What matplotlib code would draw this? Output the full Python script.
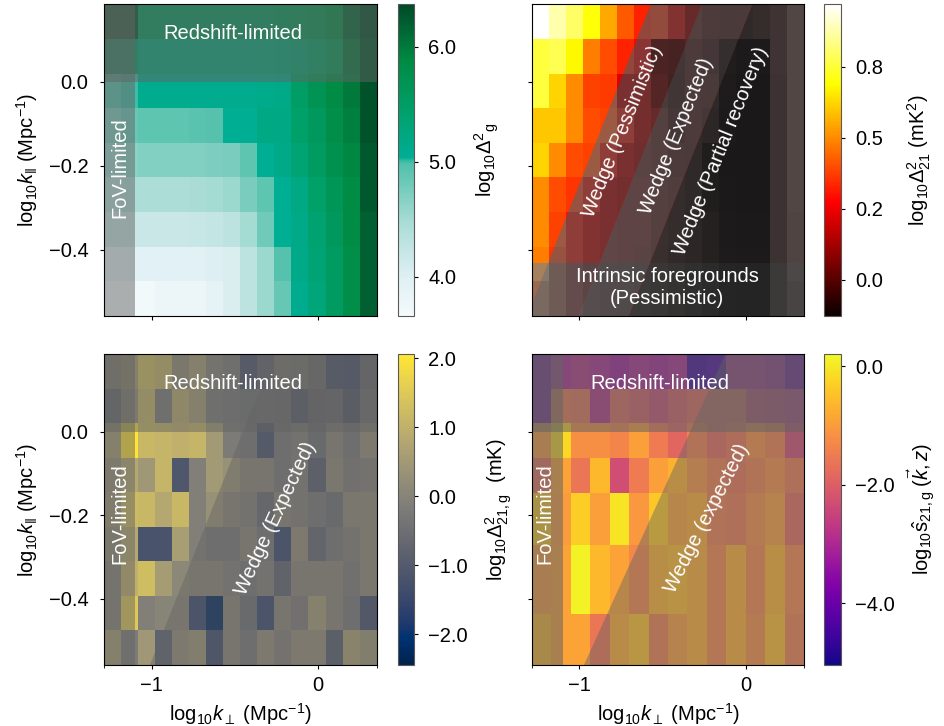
# -*- coding: utf-8 -*-
"""
Four-panel k-space maps with foreground / wedge shading
"""

import numpy as np
import matplotlib.pyplot as plt
from matplotlib.colors import LinearSegmentedColormap, ListedColormap
from matplotlib.patches import Polygon
from matplotlib.ticker import FuncFormatter

plt.rcParams['font.family'] = ['Liberation Sans', 'DejaVu Sans']
plt.rcParams['mathtext.fontset'] = 'custom'
plt.rcParams['mathtext.rm'] = 'Liberation Sans'
plt.rcParams['mathtext.it'] = 'Liberation Sans:italic'
plt.rcParams['mathtext.bf'] = 'Liberation Sans:bold'
fs = 14.5
plt.rcParams['font.size'] = fs

#------------------------------------------------------------------------------
# data (rows listed top -> bottom, 16 k_perp bins)
#
kperp_edges = np.linspace(-1.285, 0.35, 17)
kpar_edges  = np.linspace(-0.558, 0.185, 10)

# galaxy power, log10 Delta^2_g
gal_rows = [
    [6.25, 6.25, 5.6, 5.6, 5.6, 5.6, 5.6, 5.6, 5.6, 5.62, 5.65, 5.7, 5.75, 5.85, 6.15, 6.37],
    [5.5, 5.5, 5.3, 5.3, 5.3, 5.3, 5.3, 5.3, 5.3, 5.32, 5.35, 5.4, 5.5, 5.7, 6.05, 6.3],
    [4.95, 5.0, 5.1, 5.1, 5.1, 5.1, 5.1, 5.1, 5.1, 5.12, 5.15, 5.5, 5.7, 5.85, 6.0, 6.3],
    [4.75, 4.85, 4.9, 4.9, 4.9, 4.92, 4.95, 5.05, 5.05, 5.2, 5.2, 5.45, 5.6, 5.8, 5.95, 6.3],
    [4.55, 4.65, 4.7, 4.7, 4.7, 4.7, 4.72, 4.75, 4.9, 5.05, 5.15, 5.35, 5.55, 5.75, 5.9, 6.25],
    [4.4, 4.45, 4.45, 4.45, 4.45, 4.47, 4.5, 4.55, 4.75, 4.9, 5.05, 5.2, 5.45, 5.65, 5.85, 6.25],
    [4.2, 4.2, 4.2, 4.2, 4.2, 4.22, 4.25, 4.3, 4.5, 4.8, 5.05, 5.15, 5.4, 5.6, 5.85, 6.2],
    [3.9, 3.95, 3.95, 3.95, 3.95, 3.97, 4.0, 4.05, 4.3, 4.55, 4.95, 5.15, 5.35, 5.55, 5.8, 6.2],
    [3.7, 3.7, 3.7, 3.8, 3.8, 3.8, 3.9, 4.05, 4.3, 4.55, 4.85, 5.1, 5.3, 5.55, 5.8, 6.2],
]

# 21 cm power, log10 Delta^2_21 (mK^2)
hi_rows = [
    [0.97, 0.88, 0.8, 0.7, 0.55, 0.42, 0.33, 0.34, 0.25, 0.15, 0.1, 0.08, 0.08, 0.12, 0.2, 0.33],
    [0.76, 0.78, 0.68, 0.48, 0.4, 0.33, 0.28, 0.05, 0.04, 0.1, 0.05, -0.05, -0.08, -0.08, 0.2, 0.33],
    [0.76, 0.62, 0.5, 0.38, 0.37, 0.22, 0.2, 0.08, 0.02, 0.1, 0.08, -0.07, -0.1, -0.1, 0.18, 0.33],
    [0.6, 0.6, 0.5, 0.4, 0.38, 0.3, 0.2, 0.15, 0.05, 0.1, 0.05, -0.08, -0.1, -0.1, 0.18, 0.33],
    [0.62, 0.5, 0.4, 0.38, 0.3, 0.22, 0.18, 0.15, 0.1, 0.08, -0.05, -0.1, -0.1, -0.1, 0.18, 0.33],
    [0.5, 0.4, 0.36, 0.3, 0.22, 0.2, 0.2, 0.15, 0.12, 0.08, -0.05, -0.09, -0.1, -0.1, 0.18, 0.33],
    [0.5, 0.38, 0.3, 0.25, 0.22, 0.2, 0.2, 0.15, 0.12, 0.05, 0.0, -0.08, -0.09, -0.09, 0.18, 0.32],
    [0.48, 0.36, 0.3, 0.25, 0.22, 0.2, 0.18, 0.15, 0.1, 0.05, 0.0, -0.07, -0.08, -0.08, 0.18, 0.32],
    [0.42, 0.36, 0.3, 0.25, 0.22, 0.2, 0.18, 0.15, 0.1, 0.05, 0.0, -0.07, -0.08, -0.08, 0.18, 0.3],
]

# cross power, log10 Delta^2_21,g (mK)
cross_rows = [
    [0.3, 0.6, 1.3, 1.1, 0.2, 0.6, 0.0, -0.2, -1.2, -0.8, 0.0, -0.1, -0.4, -1.5, -1.6, -0.6],
    [-0.6, 0.3, 1.1, -0.2, 0.9, 0.6, -0.2, -0.3, -0.4, -0.3, -0.4, -1.2, -0.7, -0.6, -1.3, -0.3],
    [0.6, 2.0, 1.15, 1.1, 1.0, 1.1, 0.5, -0.2, -0.3, -1.2, -0.3, -0.1, -0.5, 0.0, -0.3, 0.2],
    [0.3, 0.8, 0.45, 1.1, -1.1, -0.1, 0.5, 0.3, 0.0, 0.0, -0.3, -0.1, -0.9, 0.1, -0.2, -0.1],
    [0.4, 1.2, 1.15, 0.8, 1.15, -0.1, 0.3, 0.0, -0.1, -0.6, 0.0, -0.1, -0.3, -0.5, 0.1, 0.1],
    [0.2, 0.8, -1.2, -1.2, 0.6, -0.1, -0.3, -0.3, 0.0, -0.3, -1.5, 0.2, -0.7, -0.3, -0.1, 0.1],
    [0.0, 1.0, 1.25, 0.55, 0.1, 0.0, 0.0, -0.1, -0.3, -0.1, -0.8, 0.0, 0.0, 0.0, -0.2, 0.1],
    [0.0, 1.5, -0.1, 0.0, 0.0, -1.5, -2.3, 0.0, -0.5, -1.5, 0.0, -0.2, 0.5, 0.0, -0.3, -1.3],
    [0.6, -0.2, 0.45, -0.8, 0.2, 0.4, -1.4, 0.0, -0.3, 0.2, -0.1, 0.2, 0.2, -1.0, 0.6, 0.4],
]

# detection significance, log10 s_21,g  (14 k_perp bins, uneven k_par bins)
sig_kperp_edges = np.linspace(-1.285, 0.35, 15)
sig_kpar_edges  = [-0.6, -0.437, -0.270, -0.146, -0.062, 0.0215, 0.101, 0.187]
sig_rows = [
    [-3.8, -3.0, -2.8, -3.0, -3.2, -3.0, -3.1, -3.0, -4.6, -4.5, -3.0, -3.0, -3.2, -4.0],
    [-3.8, -1.5, -1.6, -2.8, -1.8, -2.0, -2.3, -2.0, -1.8, -1.8, -1.8, -2.4, -2.5, -2.7],
    [-1.0, -0.2, -1.2, -1.2, -1.35, -0.95, -1.5, -1.85, -1.4, -1.8, -1.6, -1.2, -1.4, -2.3],
    [-1.7, -0.9, -1.6, -0.6, -2.3, -1.5, -0.95, -0.7, -1.1, -1.4, -1.6, -1.4, -1.2, -1.5],
    [-0.4, -1.0, -0.35, -0.95, -0.05, -1.05, -0.4, -0.9, -0.8, -1.4, -1.5, -1.2, -1.0, -1.8],
    [-1.0, -0.9, 0.1, -0.6, -0.9, -1.3, -0.7, -0.6, -0.8, -1.3, -0.8, -1.3, -0.7, -1.3],
    [-0.6, -0.9, -0.9, -1.6, -0.8, -0.5, -1.4, -1.0, -0.8, -1.3, -0.8, -1.2, -0.6, -1.4],
]

# limits of the plotted k ranges
xlim = (-1.285, 0.35)
ylim = (-0.558, 0.185)
k_fov = -1.1        # FoV limit in log10 k_perp
k_z   = 0.0         # redshift limit in log10 k_par
k_fg  = -0.432      # intrinsic foreground limit
# wedge lines log10 k_par = slope*log10 k_perp + offset
wedge_pess = (1.0, 0.757)
wedge_exp  = (1.0, 0.452)
wedge_part = (1.0, 0.145)
wedge_sig  = (0.877, 0.294)

#------------------------------------------------------------------------------
# plotting settings
shade_col = '#646464'
txt = dict(color='white', fontsize=fs, ha='center', va='center', zorder=5)
minus = lambda s: s.replace('-', '\u2212')
fmt1 = FuncFormatter(lambda v, p: minus('%.1f' % v))

gal_cmap = LinearSegmentedColormap.from_list('gal', [
    (0.00, '#f4fafb'), (0.12, '#e0f0f4'), (0.30, '#a9dcd5'),
    (0.49, '#4fc0aa'), (0.51, '#00ae94'), (0.66, '#00a06a'),
    (0.82, '#008a42'), (1.00, '#004a28')])


def toned(cmap, sat, dark, lift):
    # greyed-out version of a colormap (used inside the foreground wedges)
    rgb = plt.get_cmap(cmap)(np.linspace(0, 1, 256))[:, :3]
    lum = rgb @ np.array([0.299, 0.587, 0.114])
    mix = sat*rgb + (1-sat)*lum[:, None]
    return ListedColormap(np.clip(lift + dark*mix, 0, 1))


fig = plt.figure(figsize=(9.44, 7.26), dpi=100)
ax_w, ax_h = 0.2888, 0.4294
axes = {
    'tl': fig.add_axes([0.1102, 0.5647, ax_w, ax_h]),
    'tr': fig.add_axes([0.5632, 0.5647, ax_w, ax_h]),
    'bl': fig.add_axes([0.1102, 0.0840, ax_w, 0.4280]),
    'br': fig.add_axes([0.5632, 0.0840, ax_w, 0.4280]),
}
caxes = {
    'tl': fig.add_axes([0.4216, 0.5647, 0.0173, ax_h]),
    'tr': fig.add_axes([0.8732, 0.5647, 0.0173, ax_h]),
    'bl': fig.add_axes([0.4216, 0.0840, 0.0173, 0.4280]),
    'br': fig.add_axes([0.8732, 0.0840, 0.0173, 0.4280]),
}


def region(left, right, y0, y1):
    # polygon between two wedge lines (None -> far outside the axes)
    def xs(line, y, far):
        return far if line is None else (y - line[1])/line[0]
    return [(xs(left, y0, -5), y0), (xs(left, y1, -5), y1),
            (xs(right, y1, 5), y1), (xs(right, y0, 5), y0)]


def band(ax, line_hi, line_lo, alpha):
    ax.add_patch(Polygon(region(line_hi, line_lo, -2, 2), closed=True,
                         facecolor=shade_col, alpha=alpha, lw=0, zorder=2))


def limits(ax, alpha=0.5):
    ax.axvspan(xlim[0]-1, k_fov, color=shade_col, alpha=alpha, lw=0, zorder=2)
    ax.axhspan(k_z, ylim[1]+1, color=shade_col, alpha=alpha, lw=0, zorder=2)


def panel(key, xe, ye, rows, cmap, vmin, vmax, cticks, clabel, lab_x):
    ax = axes[key]
    pc = ax.pcolormesh(xe, ye, np.array(rows)[::-1], cmap=cmap,
                       vmin=vmin, vmax=vmax, zorder=1)
    ax.set_xlim(xlim)
    ax.set_ylim(ylim)
    ax.set_xticks([-1, 0])
    ax.set_yticks([0.0, -0.2, -0.4])
    ax.yaxis.set_major_formatter(fmt1)
    ax.tick_params(direction='out', length=3.2, width=0.8, labelsize=fs)
    ax.tick_params(axis='x', pad=5)
    ax.tick_params(axis='y', pad=8)
    cb = fig.colorbar(pc, cax=caxes[key])
    cb.set_ticks(cticks)
    cb.ax.yaxis.set_major_formatter(fmt1)
    cb.ax.tick_params(direction='out', length=3.2, width=0.8, labelsize=fs, pad=7)
    cb.outline.set_edgecolor('0.35')
    cb.outline.set_linewidth(0.8)
    cb.set_label(clabel, fontsize=fs)
    cb.ax.yaxis.set_label_coords(lab_x, 0.5)
    return ax


klab_par  = r'log$_{10}$$k_{\|}$ (Mpc$^{-1}$)'
klab_perp = r'log$_{10}$$k_{\perp}$ (Mpc$^{-1}$)'

#------------------------------------------------------------------------------
# Galaxy power spectrum
ax = panel('tl', kperp_edges, kpar_edges, gal_rows, gal_cmap, 3.66, 6.37,
           [4.0, 5.0, 6.0], r'log$_{10}\Delta^{2}{}_{\rm g}$', 4.55)
limits(ax)
ax.text(-0.51, 0.115, 'Redshift-limited', **txt)
ax.text(-1.19, -0.205, 'FoV-limited', rotation=90, **txt)
ax.set_ylabel(klab_par, labelpad=6)
ax.set_xticklabels([])

#------------------------------------------------------------------------------
# 21 cm power spectrum: wedge regions drawn as greyed-out copies of the map
hi_vmin, hi_vmax = -0.127, 0.97
ax = panel('tr', kperp_edges, kpar_edges, hi_rows, 'hot', hi_vmin, hi_vmax,
           [0.0, 0.25, 0.5, 0.75], r'log$_{10}\Delta^{2}_{21}$ (mK$^{2}$)', 5.0)
hi_Z = np.array(hi_rows)[::-1]
tone_b1 = toned('hot', 0.45, 0.75, 0.08)
tone_b2 = toned('hot', 0.20, 0.60, 0.15)
tone_b3 = toned('hot', 0.10, 0.55, 0.08)
bands = [(None, wedge_pess, 'hot'), (wedge_pess, wedge_exp, tone_b1),
         (wedge_exp, wedge_part, tone_b2), (wedge_part, None, tone_b3)]
for left, right, cm in bands:
    for y0, y1, cmap in [(k_fg, 2, cm), (-2, k_fg, toned(cm, 0.35, 0.8, 0.06))]:
        if isinstance(cmap, str):
            continue
        pc = ax.pcolormesh(kperp_edges, kpar_edges, hi_Z, cmap=cmap,
                           vmin=hi_vmin, vmax=hi_vmax, zorder=1.5)
        pc.set_clip_path(Polygon(region(left, right, y0, y1), closed=True,
                                 transform=ax.transData))
ax.text(-0.741, -0.119, 'Wedge (Pessimistic)', rotation=68, **txt)
ax.text(-0.419, -0.129, 'Wedge (Expected)', rotation=68, **txt)
ax.text(-0.151, -0.166, 'Wedge (Partial recovery)', rotation=68, **txt)
ax.text(-0.473, -0.489, 'Intrinsic foregrounds\n(Pessimistic)',
        linespacing=1.2, **txt)
ax.set_xticklabels([])
ax.set_yticklabels([])

#------------------------------------------------------------------------------
# Cross power spectrum
ax = panel('bl', kperp_edges, kpar_edges, cross_rows, 'cividis', -2.45, 2.06,
           [-2.0, -1.0, 0.0, 1.0, 2.0], r'log$_{10}\Delta^{2}_{21,\rm g}$  (mK)', 5.2)
limits(ax)
band(ax, wedge_exp, None, 0.45)
ax.text(-0.51, 0.115, 'Redshift-limited', **txt)
ax.text(-1.19, -0.195, 'FoV-limited', rotation=90, **txt)
ax.text(-0.254, -0.207, 'Wedge (Expected)', rotation=65, **txt)
ax.set_ylabel(klab_par, labelpad=6)
ax.set_xlabel(klab_perp)
ax.set_xticks([xlim[0], xlim[1]], minor=True)

#------------------------------------------------------------------------------
# Detection significance
ax = panel('br', sig_kperp_edges, sig_kpar_edges, sig_rows, 'plasma', -5.04, 0.2,
           [-4.0, -2.0, 0.0], r'log$_{10}\hat{\rm s}_{21,\rm g}\;(\vec{k},z)$', 5.0)
limits(ax, alpha=0.55)
band(ax, wedge_sig, None, 0.45)
ax.text(-0.519, 0.115, 'Redshift-limited', **txt)
ax.text(-1.205, -0.195, 'FoV-limited', rotation=90, **txt)
ax.text(-0.234, -0.207, 'Wedge (expected)', rotation=63, **txt)
ax.set_yticklabels([])
ax.set_xlabel(klab_perp)
ax.set_xticks([xlim[0], xlim[1]], minor=True)

plt.savefig('out.png', dpi=100)
